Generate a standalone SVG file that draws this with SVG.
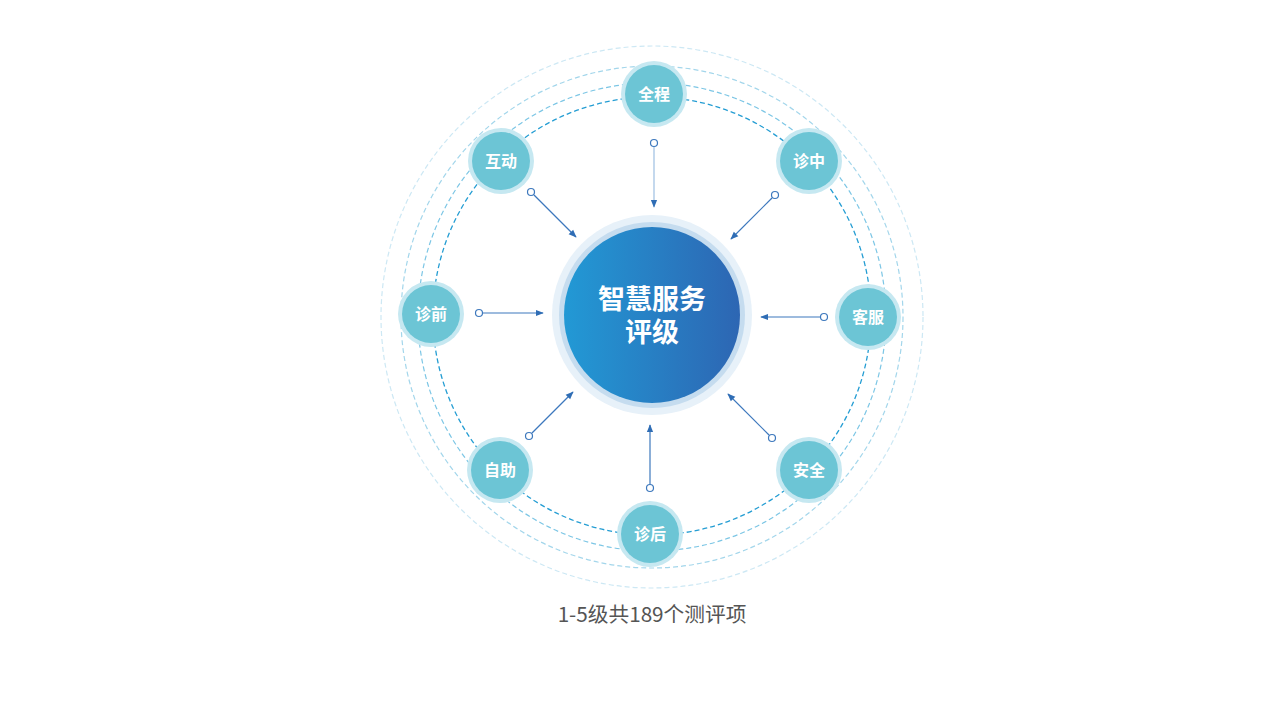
<svg xmlns="http://www.w3.org/2000/svg" width="1265" height="711" viewBox="0 0 1265 711">
<defs>
<linearGradient id="cg" x1="0" y1="0" x2="1" y2="0">
<stop offset="0" stop-color="#2299d5"/>
<stop offset="1" stop-color="#2d66b3"/>
</linearGradient>
<marker id="ah" viewBox="0 0 10 10" refX="9" refY="5" markerWidth="8" markerHeight="8" markerUnits="userSpaceOnUse" orient="auto">
<path d="M0,1 L10,5 L0,9 Z" fill="#2f6db5"/>
</marker>
<style>
.ring{fill:none;stroke-dasharray:5 3}
.halo{fill:#c6e8f1}
.nd{fill:#6cc5d5}
.lbl{font-family:"Noto Sans CJK SC","Noto Sans",sans-serif;font-weight:bold;font-size:16px;fill:#fff;text-anchor:middle}
.ar{stroke:#3d78bd;stroke-width:1.2;fill:none;marker-end:url(#ah)}
.dot{fill:#fff;stroke:#3d78bd;stroke-width:1.2}
</style>
</defs>
<rect width="1265" height="711" fill="#fff"/>
<g id="rings">
<circle class="ring" cx="652" cy="317" r="271" stroke="#cde8f4" stroke-width="1.2"/>
<circle class="ring" cx="652" cy="317" r="251" stroke="#a3d6eb" stroke-width="1.2"/>
<circle class="ring" cx="652" cy="317" r="234" stroke="#7cc6e5" stroke-width="1.2"/>
<circle class="ring" cx="652" cy="316" r="219" stroke="#249dd3" stroke-width="1.3"/>
</g>
<g id="center">
<circle cx="652" cy="315" r="100" fill="#e7f1f9"/>
<circle cx="652" cy="315" r="93" fill="#c5dcef"/>
<circle cx="652" cy="315" r="88" fill="url(#cg)"/>
<text class="lbl" style="font-size:27px"><tspan x="652" y="309">智慧服务</tspan><tspan x="652" y="342">评级</tspan></text>
</g>
<g id="connectors">
<circle class="dot" cx="654" cy="143" r="3.5"/><line class="ar" x1="654" y1="147" x2="654" y2="207" style="stroke:#9dbfe2"/>
<circle class="dot" cx="775" cy="195" r="3.5"/><line class="ar" x1="772" y1="198" x2="731" y2="239"/>
<circle class="dot" cx="824" cy="317" r="3.5"/><line class="ar" x1="820" y1="317" x2="761" y2="317"/>
<circle class="dot" cx="772" cy="438" r="3.5"/><line class="ar" x1="769" y1="435" x2="728" y2="394"/>
<circle class="dot" cx="650" cy="488" r="3.5"/><line class="ar" x1="650" y1="484" x2="650" y2="425"/>
<circle class="dot" cx="529" cy="436" r="3.5"/><line class="ar" x1="532" y1="433" x2="573" y2="392"/>
<circle class="dot" cx="479" cy="313" r="3.5"/><line class="ar" x1="483" y1="313" x2="543" y2="313"/>
<circle class="dot" cx="531" cy="192" r="3.5"/><line class="ar" x1="534" y1="195" x2="576" y2="237"/>
</g>
<g id="n-quancheng"><circle class="halo" cx="654" cy="94" r="33"/><circle class="nd" cx="654" cy="94" r="29"/><text class="lbl" x="654" y="100">全程</text></g>
<g id="n-zhenzhong"><circle class="halo" cx="809" cy="161" r="33"/><circle class="nd" cx="809" cy="161" r="29"/><text class="lbl" x="809" y="167">诊中</text></g>
<g id="n-kefu"><circle class="halo" cx="868" cy="317" r="33"/><circle class="nd" cx="868" cy="317" r="29"/><text class="lbl" x="868" y="323">客服</text></g>
<g id="n-anquan"><circle class="halo" cx="809" cy="470" r="33"/><circle class="nd" cx="809" cy="470" r="29"/><text class="lbl" x="809" y="476">安全</text></g>
<g id="n-zhenhou"><circle class="halo" cx="650" cy="534" r="33"/><circle class="nd" cx="650" cy="534" r="29"/><text class="lbl" x="650" y="540">诊后</text></g>
<g id="n-zizhu"><circle class="halo" cx="500" cy="470" r="33"/><circle class="nd" cx="500" cy="470" r="29"/><text class="lbl" x="500" y="476">自助</text></g>
<g id="n-zhenqian"><circle class="halo" cx="431" cy="314" r="33"/><circle class="nd" cx="431" cy="314" r="29"/><text class="lbl" x="431" y="320">诊前</text></g>
<g id="n-hudong"><circle class="halo" cx="501" cy="161" r="33"/><circle class="nd" cx="501" cy="161" r="29"/><text class="lbl" x="501" y="167">互动</text></g>
<text x="652" y="622" style="font-family:'Noto Sans CJK SC','Noto Sans',sans-serif;font-size:20.7px;fill:#555;text-anchor:middle">1-5级共189个测评项</text>
</svg>
